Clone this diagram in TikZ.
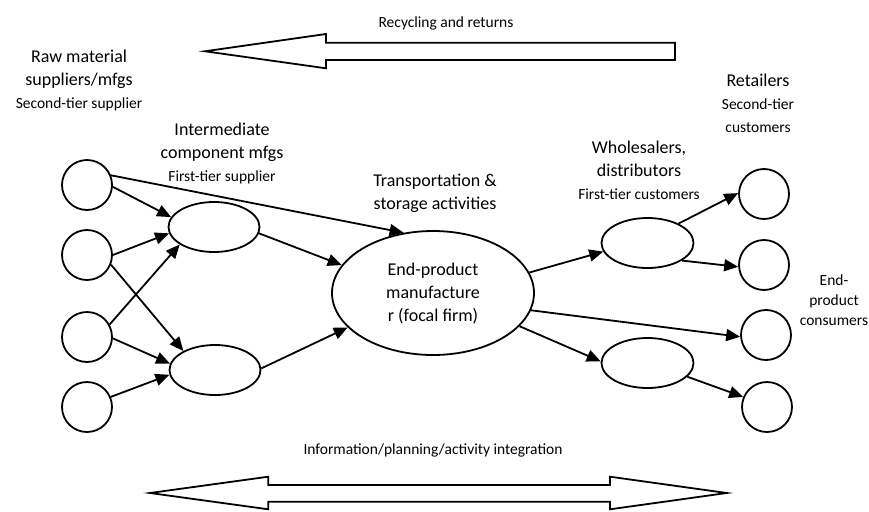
\documentclass[tikz,border=0pt]{standalone}
\usepackage{fontspec}
\setmainfont{Carlito}
\usepackage{tikz}
\usetikzlibrary{arrows.meta,shapes.geometric,positioning}
\newcommand{\lbfont}{\fontsize{18}{23}\selectfont}
\newcommand{\smfont}{\fontsize{15.5}{20}\selectfont}
\tikzset{every picture/.style={line width=1.8pt}}
\tikzstyle{party}=[circle,draw,minimum size=50pt,inner sep=0pt]
\tikzstyle{tier}=[ellipse,draw,minimum width=91pt,minimum height=50pt,inner sep=0pt]
\tikzstyle{lab}=[align=center,inner sep=0pt,font=\lbfont]
\tikzstyle{sm}=[align=center,inner sep=0pt,font=\smfont]

\begin{document}
\begin{tikzpicture}[x=1pt,y=-1pt]
\useasboundingbox (0,0) rectangle (869,511);
% suppliers
\node[party] (R1) at (87,185) {};
\node[party] (R2) at (87,255) {};
\node[party] (R3) at (87,337) {};
\node[party] (R4) at (87,407) {};
\node[tier] (I1) at (214,227) {};
\node[tier] (I2) at (215,370) {};
% focal firm
\node[ellipse,draw,minimum width=202pt,minimum height=124pt,inner sep=0pt,
  align=center,font=\lbfont] (F) at (433,293) {End-product\\manufacture\\r (focal firm)};
% customers
\node[tier,minimum width=92pt] (W1) at (647.5,243) {};
\node[tier,minimum width=92pt] (W2) at (647.5,363) {};
\node[party] (C1) at (764,194) {};
\node[party] (C2) at (764,265) {};
\node[party] (C3) at (766,335) {};
\node[party] (C4) at (767,407) {};
% labels
\node[lab] (rawl) at (79,80) {Raw material\\suppliers/mfgs\\{\smfont Second-tier supplier}};
\node[lab] (intl) at (222,153) {Intermediate\\component mfgs\\{\smfont First-tier supplier}};
\node[lab] (trl) at (435,193) {Transportation \&\\storage activities};
\node[lab] (whl) at (639,170) {Wholesalers,\\distributors\\{\smfont First-tier customers}};
\node[lab] (rtl) at (758,103) {Retailers\\{\smfont Second-tier}\\{\smfont customers}};
\node[sm] (cnl) at (834,300) {End-\\product\\consumers};
\node[sm] (rcl) at (446,23) {Recycling and returns};
\node[sm] (inl) at (433,450) {Information/planning/activity integration};
% flows
\path[->,>={Triangle[length=14pt,width=12pt]}]
(R1.22) edge (F.116.5)
(R1.-4) edge (I1.167)
(R2.0) edge (I1.-172)
(R2.-22) edge (I2.149.5)
(R3.29) edge (I1.-153)
(R3.-3) edge (I2.172)
(R4.23) edge (I2.-174)
(I1.-8) edge (F.163.7)
(I2.2) edge (F.-158.5)
(F.12.6) edge (W1.-169)
(F.-10.6) edge (C3.-176)
(F.-21) edge (W2.178)
(W1.32.6) edge (C1.178)
(W1.-27.6) edge (C2.-176)
(W2.-19) edge (C4.157);
% block arrows
\draw (675,42.7) -- (326,42.7) -- (326,34) -- (205,51.3) -- (326,68.3)
  -- (326,60) -- (675,60) -- cycle;
\draw (268.3,485) -- (610,485) -- (610,476.7) -- (726.7,493) -- (610,509.3)
  -- (610,501.7) -- (268.3,501.7) -- (268.3,509.3) -- (150,493)
  -- (268.3,476.7) -- cycle;
\end{tikzpicture}
\end{document}
